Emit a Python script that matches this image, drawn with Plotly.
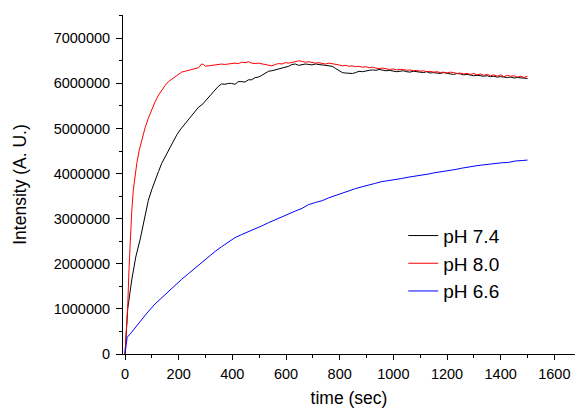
import plotly.graph_objects as go
import numpy as np

# time (sec)
t_74 = [0, 5, 10, 25, 40, 56, 70, 87, 100, 112, 125, 137, 150, 162, 177, 193, 208, 224, 236, 248,
        262, 275, 286, 300, 312, 323, 335, 347, 360, 372, 385, 397, 410, 422, 435, 447, 460, 472, 485, 497,
        510, 522, 535, 547, 560, 572, 585, 597, 610, 622, 635, 647, 660, 672, 685, 697, 710, 722, 735, 747,
        760, 772, 785, 797, 810, 822, 835, 847, 860, 872, 885, 897, 910, 922, 935, 947, 960, 972, 985, 1000,
        1012, 1025, 1037, 1050, 1062, 1075, 1087, 1100, 1112, 1125, 1137, 1150, 1162, 1175, 1187, 1200,
        1212, 1225, 1237, 1250, 1262, 1275, 1287, 1300, 1312, 1325, 1337, 1350, 1362, 1375, 1387, 1400,
        1412, 1425, 1437, 1450, 1462, 1475, 1487, 1500]
# intensity, in millions (A. U.)
v_74 = [0, 0.6, 1.0, 1.64, 2.15, 2.53, 2.95, 3.41, 3.65, 3.86, 4.05, 4.23, 4.38, 4.52, 4.70, 4.86, 4.99, 5.11, 5.20, 5.30,
        5.38, 5.48, 5.52, 5.62, 5.68, 5.78, 5.86, 5.93, 5.99, 5.98, 6.00, 6.00, 5.98, 6.04, 6.04, 6.03, 6.08, 6.08, 6.13, 6.14,
        6.18, 6.22, 6.27, 6.28, 6.30, 6.32, 6.33, 6.35, 6.38, 6.42, 6.43, 6.40, 6.42, 6.43, 6.42, 6.41, 6.43, 6.42, 6.41, 6.40,
        6.40, 6.38, 6.33, 6.28, 6.24, 6.23, 6.22, 6.22, 6.24, 6.27, 6.26, 6.28, 6.29, 6.30, 6.29, 6.31, 6.30, 6.28, 6.29, 6.27,
        6.26, 6.27, 6.28, 6.26, 6.25, 6.27, 6.26, 6.25, 6.24, 6.26, 6.23, 6.24, 6.23, 6.22, 6.24, 6.22,
        6.21, 6.20, 6.22, 6.21, 6.19, 6.20, 6.19, 6.17, 6.18, 6.17, 6.16, 6.17, 6.15, 6.16, 6.14, 6.15,
        6.14, 6.13, 6.14, 6.12, 6.13, 6.12, 6.11, 6.11]

t_80 = [0, 5, 10, 15, 19, 25, 31, 37, 44, 53, 62, 75, 87, 100, 112, 125, 137, 150, 162, 175, 186, 200, 211, 224, 236, 248,
        262, 275, 285, 292, 300, 312, 323, 336, 348, 360, 372, 385, 397, 410, 422, 435, 447, 460, 472, 485, 497,
        510, 522, 535, 547, 560, 572, 585, 597, 610, 622, 635, 647, 660, 672, 685, 697, 710, 722, 735, 747,
        760, 772, 785, 797, 810, 822, 835, 847, 860, 872, 885, 897, 910, 922, 935, 947, 960, 972, 985, 1000,
        1012, 1025, 1037, 1050, 1062, 1075, 1087, 1100, 1112, 1125, 1137, 1150, 1162, 1175, 1187, 1200,
        1212, 1225, 1237, 1250, 1262, 1275, 1287, 1300, 1312, 1325, 1337, 1350, 1362, 1375, 1387, 1400,
        1412, 1425, 1437, 1450, 1462, 1475, 1487, 1500]
v_80 = [0, 0.5, 1.05, 1.9, 2.53, 3.15, 3.64, 3.98, 4.23, 4.52, 4.75, 5.02, 5.23, 5.43, 5.59, 5.74, 5.85, 5.96, 6.04, 6.10, 6.15, 6.20, 6.25, 6.27, 6.29, 6.30,
        6.32, 6.35, 6.43, 6.42, 6.38, 6.39, 6.40, 6.41, 6.41, 6.43, 6.42, 6.43, 6.44, 6.45, 6.44, 6.47, 6.46, 6.48, 6.45, 6.44, 6.45,
        6.43, 6.42, 6.40, 6.39, 6.42, 6.44, 6.43, 6.46, 6.45, 6.47, 6.48, 6.50, 6.49, 6.47, 6.48, 6.46, 6.45, 6.46, 6.44, 6.43,
        6.45, 6.44, 6.42, 6.41, 6.39, 6.40, 6.38, 6.39, 6.37, 6.38, 6.36, 6.37, 6.35, 6.36, 6.34, 6.33, 6.34, 6.32, 6.31, 6.32,
        6.30, 6.31, 6.31, 6.29, 6.30, 6.28, 6.29, 6.27, 6.28, 6.26, 6.27, 6.25, 6.26, 6.24, 6.25, 6.23,
        6.25, 6.24, 6.22, 6.23, 6.21, 6.22, 6.20, 6.22, 6.19, 6.21, 6.18, 6.20, 6.17, 6.19, 6.16, 6.19,
        6.15, 6.18, 6.16, 6.17, 6.14, 6.16, 6.13, 6.16]

t_66 = [0, 5, 8, 20, 40, 62, 85, 112, 135, 162, 185, 210, 236, 260, 285, 311, 335, 360, 385, 410, 435, 460, 485,
        510, 534, 560, 585, 609, 635, 660, 683, 710, 735, 758, 785, 810, 832, 860, 885, 907, 930, 955, 980,
        1006, 1030, 1055, 1080, 1106, 1130, 1155, 1180, 1205, 1230, 1255, 1280, 1305, 1330, 1355, 1380,
        1404, 1430, 1455, 1480, 1500]
v_66 = [0, 0.3, 0.37, 0.45, 0.60, 0.75, 0.93, 1.11, 1.24, 1.38, 1.51, 1.65, 1.78, 1.90, 2.03, 2.15, 2.27, 2.38, 2.49, 2.58, 2.65, 2.71, 2.77,
        2.84, 2.91, 2.98, 3.05, 3.11, 3.17, 3.23, 3.31, 3.36, 3.40, 3.46, 3.52, 3.57, 3.62, 3.67, 3.71, 3.75, 3.78, 3.82, 3.84,
        3.86, 3.89, 3.92, 3.94, 3.96, 3.99, 4.02, 4.04, 4.06, 4.09, 4.12, 4.15, 4.17, 4.19, 4.21, 4.22,
        4.24, 4.25, 4.28, 4.29, 4.30]

series_names = ["pH 7.4", "pH 8.0", "pH 6.6"]
series_colors = ["#000000", "#ff0000", "#0000ff"]

y_tick_vals = [0, 1000000, 2000000, 3000000, 4000000, 5000000, 6000000, 7000000]
x_tick_vals = [0, 200, 400, 600, 800, 1000, 1200, 1400, 1600]

FONT = "Arial, Liberation Sans, sans-serif"

fig = go.Figure()
for t, v, name, color in zip([t_74, t_80, t_66], [v_74, v_80, v_66], series_names, series_colors):
    fig.add_trace(go.Scatter(x=t, y=np.array(v) * 1e6, mode="lines", name=name,
                             line=dict(color=color, width=1)))

fig.update_layout(
    width=576, height=408,
    margin=dict(l=123, r=1, t=15, b=54, autoexpand=False),
    paper_bgcolor="white", plot_bgcolor="white",
    font=dict(family=FONT, color="black", size=14),
    showlegend=True,
    legend=dict(x=0.62, y=0.405, xanchor="left", yanchor="top",
                font=dict(size=19, family=FONT, color="black"),
                bgcolor="rgba(0,0,0,0)", borderwidth=0, tracegroupgap=0),
)
fig.update_xaxes(
    range=[-7.5, 1677], tickvals=x_tick_vals, ticks="outside", ticklen=5, tickwidth=1,
    tickcolor="black", showline=True, linecolor="black", linewidth=1, showgrid=False, zeroline=False,
    minor=dict(dtick=100, ticks="outside", ticklen=3, tickcolor="black", tickwidth=1),
    automargin=True, ticklabelstandoff=2,
    tickfont=dict(size=14.5), title=dict(text="time (sec)", font=dict(size=17.5), standoff=11),
)
fig.update_yaxes(
    range=[0, 7.517e6], tickvals=y_tick_vals, tickformat="d", ticks="outside", ticklen=6, tickwidth=1,
    tickcolor="black", showline=True, linecolor="black", linewidth=1, showgrid=False, zeroline=False,
    minor=dict(dtick=500000, ticks="outside", ticklen=3, tickcolor="black", tickwidth=1),
    automargin=True, ticklabelstandoff=3,
    tickfont=dict(size=14.5), title=dict(text="Intensity (A. U.)", font=dict(size=17.5), standoff=22),
)

fig.write_html("out.html", config={"displayModeBar": False},
               post_script="document.body.style.margin='0';document.body.style.padding='0';")
